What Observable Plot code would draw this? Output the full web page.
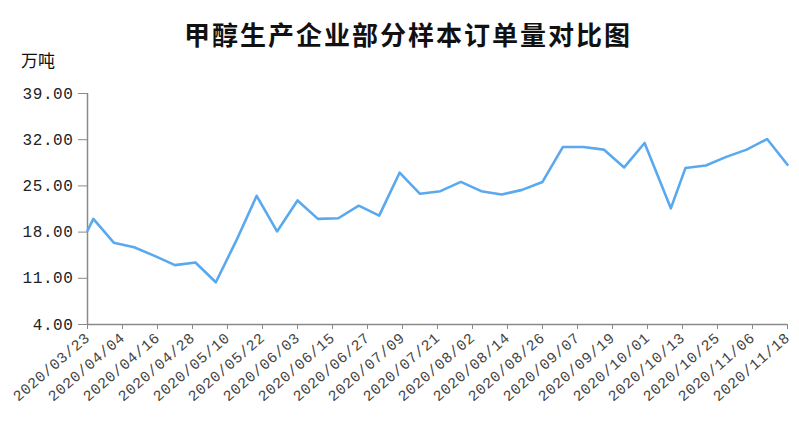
<!DOCTYPE html>
<html>
<head>
<meta charset="utf-8">
<script src="https://cdn.jsdelivr.net/npm/d3@7"></script>
<script src="https://cdn.jsdelivr.net/npm/@observablehq/plot@0.6"></script>
<style>
  html, body { margin: 0; padding: 0; background: #fff; }
  #wrap { position: relative; width: 799px; height: 427px; overflow: hidden; }
  #title { position: absolute; left: 184px; top: 17px; font-family: "Noto Sans CJK SC", sans-serif; font-weight: bold; font-size: 26px; letter-spacing: 2px; line-height: 34px; color: #111; white-space: nowrap; }
  #unit { position: absolute; left: 21px; top: 49px; font-family: "Noto Sans CJK SC", sans-serif; font-size: 17px; line-height: 22px; color: #111; }
  #chart { position: absolute; left: 0; top: 0; }
  #chart svg text { font-family: "Liberation Mono", monospace; }
  #chart svg g[aria-label="y-axis tick label"] text { letter-spacing: 0.6px; }
  #chart svg g[aria-label="x-axis tick label"] text { letter-spacing: 0.6px; }
</style>
</head>
<body>
<div id="wrap">
  <div id="chart"></div>
  <div id="title">甲醇生产企业部分样本订单量对比图</div>
  <div id="unit">万吨</div>
</div>
<script>
const dates = ["2020-03-23","2020-03-25","2020-04-01","2020-04-08","2020-04-15","2020-04-22","2020-04-29","2020-05-06","2020-05-13","2020-05-20","2020-05-27","2020-06-03","2020-06-10","2020-06-17","2020-06-24","2020-07-01","2020-07-08","2020-07-15","2020-07-22","2020-07-29","2020-08-05","2020-08-12","2020-08-19","2020-08-26","2020-09-02","2020-09-09","2020-09-16","2020-09-23","2020-09-30","2020-10-09","2020-10-14","2020-10-21","2020-10-28","2020-11-04","2020-11-11","2020-11-18"];
const values = [18.2,20.0,16.4,15.7,14.4,13.0,13.4,10.4,16.7,23.5,18.1,22.8,20.0,20.1,22.0,20.5,27.0,23.8,24.2,25.6,24.2,23.7,24.4,25.6,30.9,30.9,30.5,27.8,31.5,21.6,27.7,28.1,29.4,30.5,32.1,28.2];
const xTickLabels = ["2020-03-23","2020-04-04","2020-04-16","2020-04-28","2020-05-10","2020-05-22","2020-06-03","2020-06-15","2020-06-27","2020-07-09","2020-07-21","2020-08-02","2020-08-14","2020-08-26","2020-09-07","2020-09-19","2020-10-01","2020-10-13","2020-10-25","2020-11-06","2020-11-18"];
const yTicks = [4, 11, 18, 25, 32, 39];

const parse = d3.utcParse("%Y-%m-%d");
const data = dates.map((d, i) => ({date: parse(d), value: values[i]}));
const xTicks = xTickLabels.map(parse);
const axisColor = "#8a8a8a";

const chart = Plot.plot({
  width: 799,
  height: 427,
  marginTop: 93,
  marginLeft: 87,
  marginRight: 12,
  marginBottom: 103,
  x: {type: "utc", domain: [xTicks[0], xTicks[xTicks.length - 1]]},
  y: {domain: [4, 39]},
  marks: [
    Plot.ruleY([4], {stroke: axisColor, strokeWidth: 1.5}),
    Plot.ruleX([xTicks[0]], {stroke: axisColor, strokeWidth: 1.5}),
    Plot.axisY({ticks: yTicks, tickFormat: d3.format(".2f"), tickSize: 9, tickPadding: 5, stroke: axisColor, fill: "#222", fontSize: 16, label: null}),
    Plot.axisX({ticks: xTicks, tickFormat: d3.utcFormat("%Y/%m/%d"), tickSize: 5, tickPadding: 6, tickRotate: -41, stroke: axisColor, fill: "#444", fontSize: 15, label: null}),
    Plot.lineY(data, {x: "date", y: "value", stroke: "#5aa9ee", strokeWidth: 2.6})
  ]
});
document.getElementById("chart").appendChild(chart);
</script>
</body>
</html>
